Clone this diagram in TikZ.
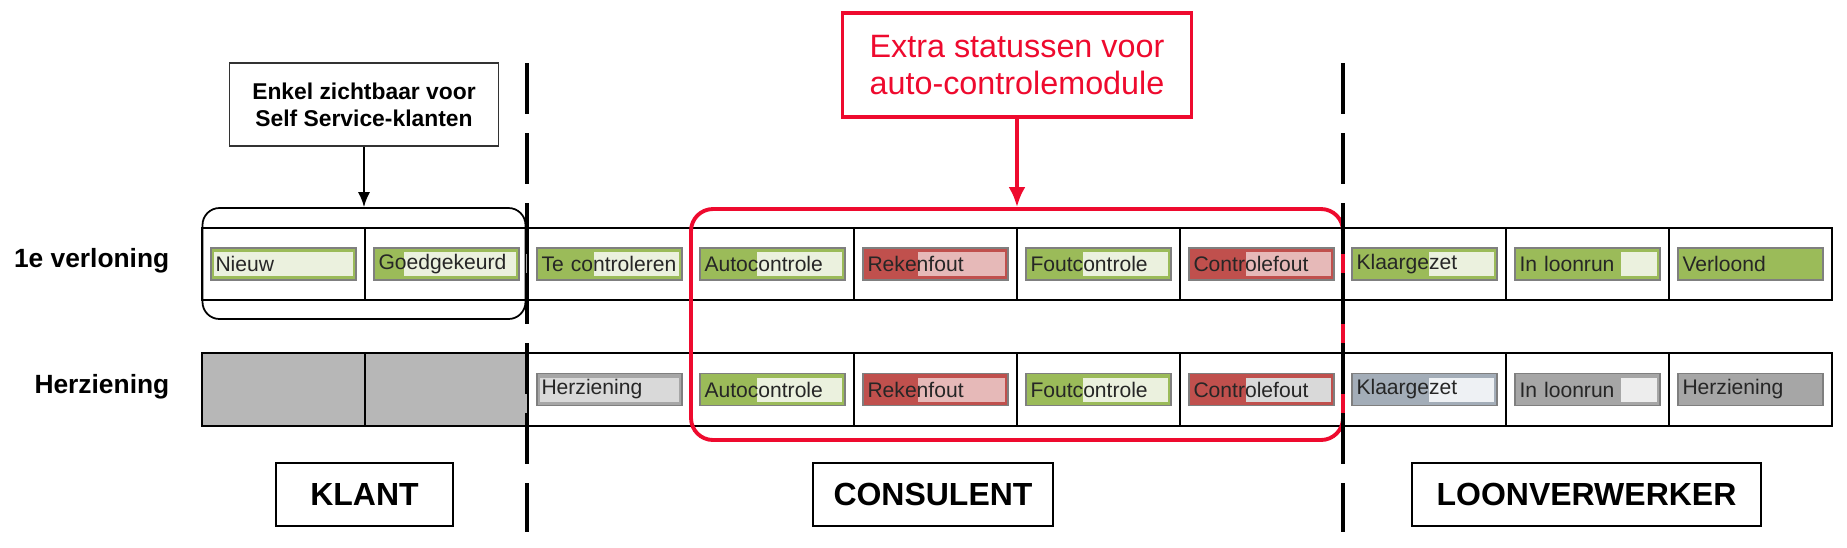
\documentclass[tikz,border=0pt]{standalone}
\usepackage{fontspec}
\setmainfont{Liberation Sans}
\usetikzlibrary{arrows.meta, positioning, calc}

\definecolor{okgreen}{HTML}{9BBB59}
\definecolor{oklight}{HTML}{EBF1DE}
\definecolor{errred}{HTML}{C0504D}
\definecolor{errlight}{HTML}{E6B9B8}
\definecolor{revgray}{HTML}{A6A6A6}
\definecolor{revlight}{HTML}{D9D9D9}
\definecolor{revpale}{HTML}{EDEDED}
\definecolor{slategrey}{HTML}{A3ADB8}
\definecolor{slatelight}{HTML}{EEF1F4}
\definecolor{cellgray}{HTML}{B7B7B7}
\definecolor{chipedge}{HTML}{7F7F7F}
\definecolor{markred}{HTML}{EE0A2E}

% status chip: name, position, base colour, light colour, progress, text
\newcommand{\chip}[6]{%
  \node[chip, fill=#3, path picture={
      \fill[#4] ($(path picture bounding box.south west)!#5!(path picture bounding box.south east)+(0,0.04)$)
        rectangle ($(path picture bounding box.north east)+(-0.03,-0.04)$);
    }] (#1) at (#2) {#6};}

\begin{document}
\begin{tikzpicture}[
    >=Latex,
    chip/.style={
        draw=chipedge,
        line width=0.5pt,
        minimum height=0.32cm,
        text width=1.36cm,
        inner xsep=0.045cm,
        inner ysep=0pt,
        align=left,
        text=black!85,
        font=\fontsize{6}{7}\selectfont
    },
    cellline/.style={line width=0.5pt},
    rowlabel/.style={
        anchor=east,
        inner sep=0pt,
        font=\fontsize{7.5}{9}\selectfont\bfseries
    },
    actor/.style={
        draw,
        line width=0.7pt,
        minimum height=0.63cm,
        inner sep=0pt,
        font=\fontsize{9.1}{11}\selectfont\bfseries
    },
    divider/.style={
        line width=1.15pt,
        dash pattern=on 0.51cm off 0.19cm
    }
]
\useasboundingbox (0,0) rectangle (18.47,5.47);

% Cell centres
\foreach \c in {1,...,10} {
    \coordinate (v\c) at ({2.02+(\c-0.5)*1.63},2.83);
    \coordinate (h\c) at ({2.02+(\c-0.5)*1.63},1.575);
}

% Row labels
\node[rowlabel] (verloning) at (1.70,2.86) {1e verloning};
\node[rowlabel] (herziening) at (1.70,1.60) {Herziening};

% Rows of cells
\fill[cellgray] (2.02,1.21) rectangle (5.28,1.94);
\draw[cellline] (2.02,2.47) rectangle (18.32,3.19);
\draw[cellline] (2.02,1.21) rectangle (18.32,1.94);
\foreach \c in {1,...,9} {
    \draw[cellline] ({2.02+\c*1.63},2.47) -- ({2.02+\c*1.63},3.19);
    \draw[cellline] ({2.02+\c*1.63},1.21) -- ({2.02+\c*1.63},1.94);
}

% Statuses 1e verloning
\chip{nieuw}{v1}{okgreen}{oklight}{0.02}{Nieuw}
\chip{goedgekeurd}{v2}{okgreen}{oklight}{0.21}{Goedgekeurd}
\chip{tecontroleren}{v3}{okgreen}{oklight}{0.39}{Te controleren}
\chip{autoA}{v4}{okgreen}{oklight}{0.39}{Autocontrole}
\chip{rekenA}{v5}{errred}{errlight}{0.38}{Rekenfout}
\chip{foutA}{v6}{okgreen}{oklight}{0.39}{Foutcontrole}
\chip{controleA}{v7}{errred}{errlight}{0.39}{Controlefout}
\chip{klaarA}{v8}{okgreen}{oklight}{0.53}{Klaargezet}
\chip{loonrunA}{v9}{okgreen}{oklight}{0.73}{In loonrun}
\chip{verloond}{v10}{okgreen}{okgreen}{1}{Verloond}

% Statuses herziening
\chip{herzB}{h3}{revgray}{revlight}{0.02}{Herziening}
\chip{autoB}{h4}{okgreen}{oklight}{0.39}{Autocontrole}
\chip{rekenB}{h5}{errred}{errlight}{0.38}{Rekenfout}
\chip{foutB}{h6}{okgreen}{oklight}{0.39}{Foutcontrole}
\chip{controleB}{h7}{errred}{revlight}{0.39}{Controlefout}
\chip{klaarB}{h8}{slategrey}{slatelight}{0.53}{Klaargezet}
\chip{loonrunB}{h9}{revgray}{revpale}{0.73}{In loonrun}
\chip{herzEnd}{h10}{revgray}{revgray}{1}{Herziening}

% Groups
\node[draw, line width=0.5pt, rounded corners=0.17cm,
      minimum width=3.23cm, minimum height=1.11cm] (klantgroup) at (3.64,2.835) {};
\node[draw=markred, line width=1.1pt, rounded corners=0.22cm,
      minimum width=6.52cm, minimum height=2.31cm] (autogroup) at (10.17,2.225) {};

% Role separators
\draw[divider] (5.27,4.84) -- (5.27,0.15);
\draw[divider] (13.43,4.84) -- (13.43,0.15);

% Notes
\node[draw=black!80, line width=0.5pt, minimum width=2.69cm, minimum height=0.83cm,
      align=center, font=\fontsize{6.5}{7.7}\selectfont\bfseries] (selfnote) at (3.64,4.425)
{Enkel zichtbaar voor\\Self Service-klanten};
\node[draw=markred, line width=1pt, text=markred, minimum width=3.49cm, minimum height=1.04cm,
      align=center, font=\fontsize{9.2}{10.5}\selectfont] (autonote) at (10.17,4.82)
{Extra statussen voor\\auto-controlemodule};

\draw[->, line width=0.5pt, >={Latex[length=0.15cm, width=0.12cm]}] (selfnote.south) -- (klantgroup.north);
\draw[->, markred, line width=1.1pt, >={Latex[length=0.2cm, width=0.17cm]}] (autonote.south) -- (autogroup.north);

% Roles
\node[actor, minimum width=1.77cm] (klant) at (3.645,0.525) {KLANT};
\node[actor, minimum width=2.40cm] (consulent) at (9.33,0.525) {CONSULENT};
\node[actor, minimum width=3.49cm] (loonverwerker) at (15.865,0.525) {LOONVERWERKER};

\end{tikzpicture}
\end{document}
